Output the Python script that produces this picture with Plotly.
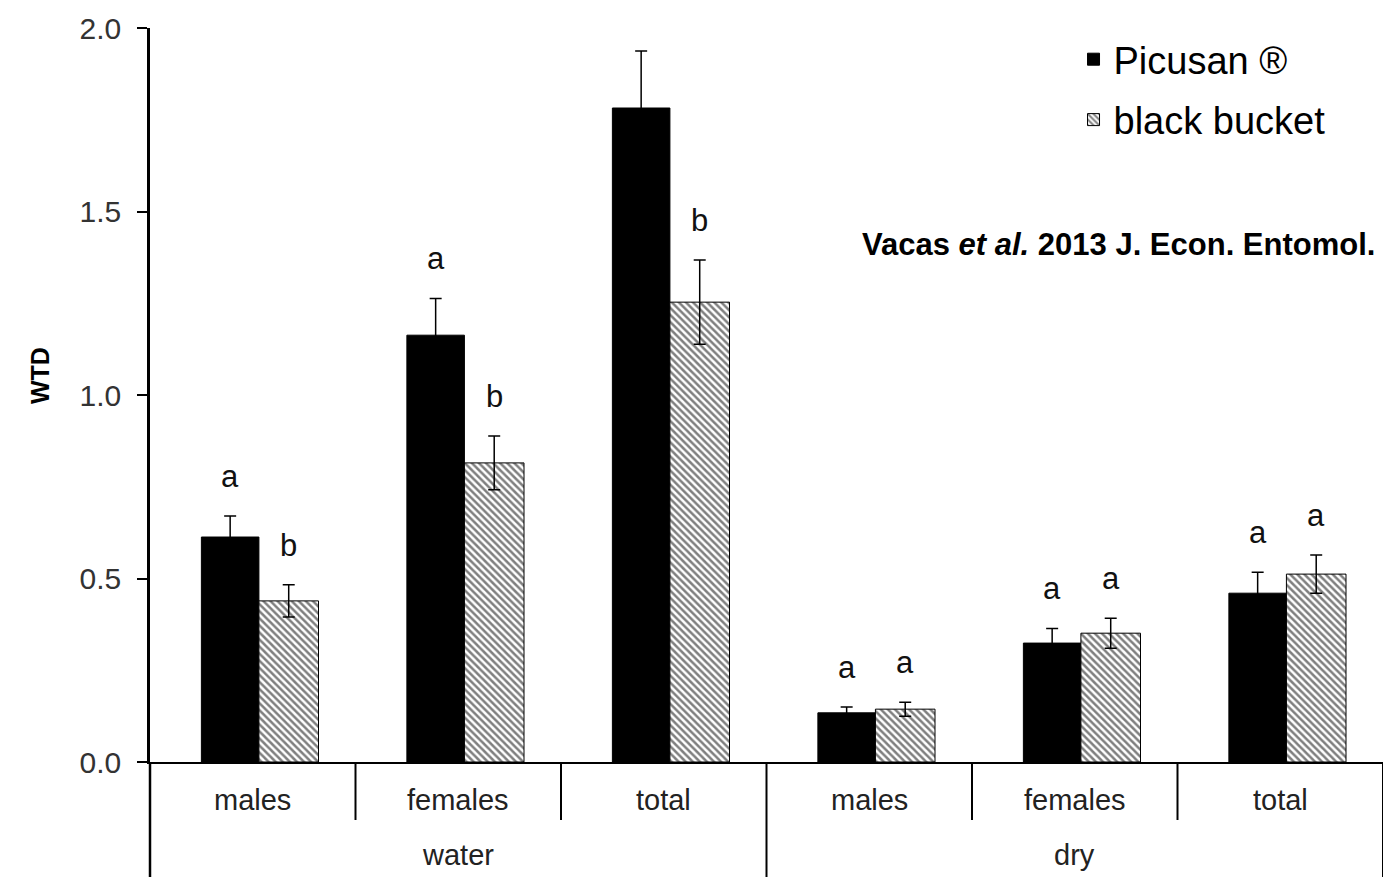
import plotly.graph_objects as go

# Trap catches (WTD) by trap type, sex and trap condition
groups = ["water", "water", "water", "dry", "dry", "dry"]
sexes = ["males", "females", "total", "males", "females", "total"]

picusan = [0.613, 1.163, 1.782, 0.134, 0.324, 0.460]
picusan_se = [0.057, 0.100, 0.155, 0.016, 0.040, 0.057]
bucket = [0.439, 0.815, 1.253, 0.144, 0.351, 0.512]
bucket_se = [0.044, 0.073, 0.115, 0.019, 0.041, 0.052]

picusan_letters = ["a", "a", "a", "a", "a", "a"]
bucket_letters = ["b", "b", "b", "a", "a", "a"]

x_pos = list(range(len(sexes)))
n_cat = len(sexes)

FONT = "Liberation Sans, Arial, Helvetica, sans-serif"

fig = go.Figure()
fig.add_trace(go.Bar(
    x=x_pos, y=picusan, name="Picusan ®", legendgroup="p",
    width=0.28, offset=-0.25,
    marker=dict(color="black", line=dict(color="black", width=1)),
    error_y=dict(type="data", array=picusan_se, color="black", thickness=1.5, width=6),
))
fig.add_trace(go.Bar(
    x=x_pos, y=bucket, name="black bucket", legendgroup="b",
    width=0.29, offset=0.03,
    marker=dict(color="white", line=dict(color="black", width=1),
                pattern=dict(shape="\\", fgcolor="black", bgcolor="white",
                             size=5, solidity=0.5)),
    error_y=dict(type="data", array=bucket_se, color="black", thickness=1.5, width=6),
))

annotations = []
offset = 0.108
for i in x_pos:
    for vals, errs, letters, dx in ((picusan, picusan_se, picusan_letters, -0.11),
                                    (bucket, bucket_se, bucket_letters, 0.175)):
        top = min(vals[i] + errs[i] + offset, 2.005)
        annotations.append(dict(
            x=i + dx, y=top, xref="x", yref="y", text=letters[i],
            showarrow=False, yanchor="middle",
            font=dict(family=FONT, size=31, color="#111"),
        ))
    # category label below the axis
    annotations.append(dict(
        x=i, y=-0.052, xref="x", yref="paper", text=sexes[i], showarrow=False,
        yanchor="middle", font=dict(family=FONT, size=29, color="#222"),
    ))

# group labels centred under their categories
for g in ("water", "dry"):
    idx = [i for i, v in enumerate(groups) if v == g]
    annotations.append(dict(
        x=sum(idx) / len(idx), y=-0.127, xref="x", yref="paper", text=g,
        showarrow=False, yanchor="middle",
        font=dict(family=FONT, size=29, color="#222"),
    ))

annotations.append(dict(
    x=1.0, y=1.5 - 0.09, xref="paper", yref="y",
    text="Vacas <i>et al.</i> 2013 J. Econ. Entomol.", showarrow=False,
    xanchor="right", yanchor="middle", xshift=-6,
    font=dict(family=FONT, size=31, color="black", weight="bold"),
))

# y-axis title placed from pixel position converted to paper units
plot_w, plot_h = 1383 - 150, 877 - 28 - 115
annotations.append(dict(
    x=(40 - 150) / plot_w, y=(762 - 375) / plot_h, xref="paper", yref="paper",
    text="<b>WTD</b>", showarrow=False, textangle=-90,
    xanchor="center", yanchor="middle",
    font=dict(family=FONT, size=25, color="black"),
))

# divider lines between categories and groups in the label area
shapes = []
for k in range(n_cat + 1):
    px = k / n_cat
    is_group_edge = k == 0 or k == n_cat or groups[k - 1] != groups[min(k, n_cat - 1)]
    y1 = -0.158 if is_group_edge else -0.079
    shapes.append(dict(type="line", xref="paper", yref="paper",
                       x0=px, x1=px, y0=0, y1=y1,
                       line=dict(color="black", width=2.5 if k == 0 else 2)))

fig.update_layout(
    width=1383, height=877,
    margin=dict(l=150, r=0, t=28, b=115),
    paper_bgcolor="white", plot_bgcolor="white",
    barmode="group",
    showlegend=True,
    legend=dict(x=0.749, y=1.0, xanchor="left", yanchor="top",
                traceorder="grouped", tracegroupgap=8,
                font=dict(family=FONT, size=38, color="black"),
                bgcolor="rgba(0,0,0,0)"),
    xaxis=dict(range=[-0.5, n_cat - 0.5], showticklabels=False, ticks="",
               showgrid=False, zeroline=False, showline=True,
               linecolor="black", linewidth=2),
    yaxis=dict(range=[0, 2.0], dtick=0.5, tick0=0, tickformat=".1f",
               ticks="outside", ticklen=10, tickwidth=2, tickcolor="black",
               ticklabelstandoff=10,
               showline=True, linecolor="black", linewidth=2.5,
               showgrid=False, zeroline=False,
               tickfont=dict(family=FONT, size=30, color="#333")),
    annotations=annotations,
    shapes=shapes,
)

fig.write_html("out.html")
